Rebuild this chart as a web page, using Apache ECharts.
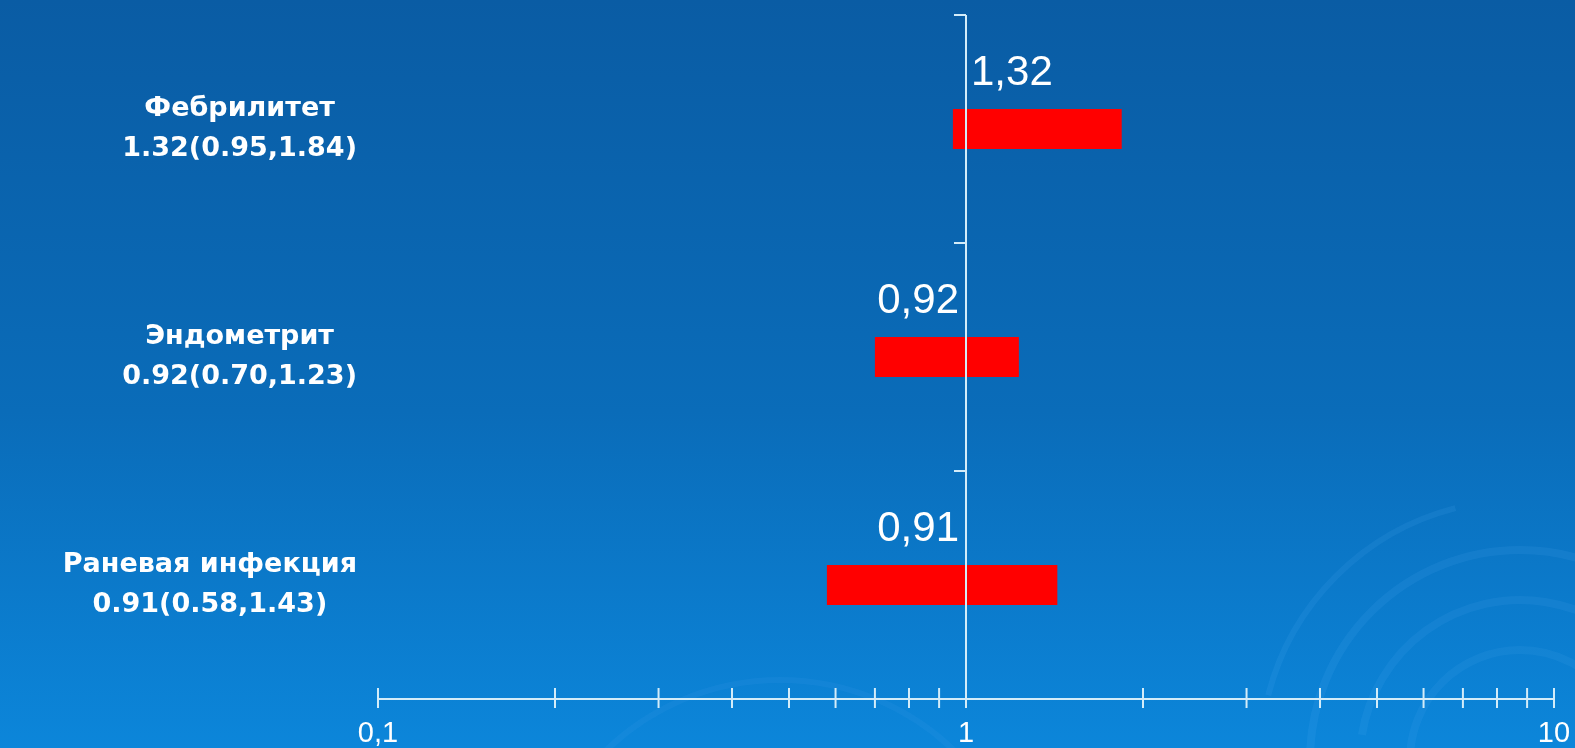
<!DOCTYPE html>
<html>
<head>
<meta charset="utf-8">
<script src="https://cdn.jsdelivr.net/npm/echarts@6/dist/echarts.min.js"></script>
<style>
html,body{margin:0;padding:0;background:#0a6cb9;}
#chart{width:1575px;height:748px;}
</style>
</head>
<body>
<div id="chart"></div>
<script>
// ---- data ----
const categories = ['Фебрилитет', 'Эндометрит', 'Раневая инфекция'];
const estimates = [1.32, 0.92, 0.91];
const lowerCI = [0.95, 0.70, 0.58];
const upperCI = [1.84, 1.23, 1.43];
const xTickValues = [0.1, 0.2, 0.3, 0.4, 0.5, 0.6, 0.7, 0.8, 0.9, 1, 2, 3, 4, 5, 6, 7, 8, 9, 10];
const xMin = 0.1;
const xMax = 10;
const referenceValue = 1;

// ---- helpers ----
const comma = v => String(v).replace('.', ',');
const ciText = i => estimates[i].toFixed(2) + '(' + lowerCI[i].toFixed(2) + ',' + upperCI[i].toFixed(2) + ')';

const AXIS_COLOR = '#d3ecf9';
const chart = echarts.init(document.getElementById('chart'));

const rangeData = categories.map((c, i) => [i, lowerCI[i], upperCI[i], estimates[i]]);

const arcStyle = (a, w) => ({ stroke: 'rgba(110,185,255,' + a + ')', lineWidth: w, fill: null });

const option = {
  backgroundColor: {
    type: 'linear', x: 0, y: 0, x2: 0, y2: 1,
    colorStops: [
      { offset: 0, color: '#0a5ca4' },
      { offset: 0.55, color: '#0a6cb9' },
      { offset: 1, color: '#0c86da' }
    ]
  },
  animation: false,
  graphic: [
    { type: 'arc', shape: { cx: 1520, cy: 760, r: 260, startAngle: Math.PI * 1.08, endAngle: Math.PI * 1.42 }, style: arcStyle(0.10, 6), silent: true, z: -1 },
    { type: 'arc', shape: { cx: 1520, cy: 760, r: 210, startAngle: Math.PI * 1.0, endAngle: Math.PI * 1.62 }, style: arcStyle(0.10, 8), silent: true, z: -1 },
    { type: 'arc', shape: { cx: 1520, cy: 760, r: 160, startAngle: Math.PI * 1.05, endAngle: Math.PI * 1.75 }, style: arcStyle(0.09, 8), silent: true, z: -1 },
    { type: 'arc', shape: { cx: 1520, cy: 760, r: 110, startAngle: Math.PI * 1.0, endAngle: Math.PI * 1.8 }, style: arcStyle(0.08, 8), silent: true, z: -1 },
    { type: 'arc', shape: { cx: 780, cy: 930, r: 250, startAngle: Math.PI * 1.25, endAngle: Math.PI * 1.75 }, style: arcStyle(0.07, 6), silent: true, z: -1 }
  ],
  grid: { left: 378, right: 21, top: 15, bottom: 48, containLabel: false },
  xAxis: {
    type: 'log',
    logBase: 10,
    min: xMin,
    max: xMax,
    axisLine: { show: true, lineStyle: { color: AXIS_COLOR, width: 2 } },
    axisTick: { show: false },
    splitLine: { show: false },
    minorTick: { show: false },
    axisLabel: {
      color: '#ffffff',
      fontFamily: '"Liberation Sans", Arial, sans-serif',
      fontSize: 29,
      margin: 20,
      formatter: v => comma(v)
    }
  },
  yAxis: {
    type: 'category',
    inverse: true,
    data: categories,
    axisLine: { show: false },
    axisTick: { show: false },
    splitLine: { show: false },
    axisLabel: {
      margin: 21,
      formatter: (name, idx) => '{c|' + name + '}\n{c|' + ciText(idx) + '}',
      rich: {
        c: {
          align: 'center',
          color: '#ffffff',
          fontFamily: '"DejaVu Sans", sans-serif',
          fontWeight: 'bold',
          fontSize: 27,
          lineHeight: 40
        }
      }
    }
  },
  series: [
    {
      type: 'custom',
      name: 'ticks',
      data: xTickValues.map(v => [v, 0]),
      encode: { x: 0, y: 1 },
      silent: true,
      renderItem: (params, api) => {
        const p = api.coord([api.value(0), 0]);
        const bottom = params.coordSys.y + params.coordSys.height;
        return {
          type: 'line',
          shape: { x1: p[0], y1: bottom - 11, x2: p[0], y2: bottom + 9 },
          style: { stroke: AXIS_COLOR, lineWidth: 2 }
        };
      }
    },
    {
      type: 'custom',
      name: 'ОР (95% ДИ)',
      data: rangeData,
      encode: { x: [1, 2], y: 0 },
      silent: true,
      renderItem: (params, api) => {
        const cat = api.value(0);
        const lo = api.value(1);
        const hi = api.value(2);
        const est = api.value(3);
        const band = api.size([1, 1])[1];
        const barH = band * 0.175;
        const pLo = api.coord([lo, cat]);
        const pHi = api.coord([hi, cat]);
        const pRef = api.coord([referenceValue, cat]);
        const top = pRef[1] - band / 2;
        const right = est >= referenceValue;
        return {
          type: 'group',
          children: [
            {
              type: 'rect',
              shape: { x: pLo[0], y: pRef[1] - barH / 2, width: pHi[0] - pLo[0], height: barH },
              style: { fill: '#ff0000' }
            },
            {
              type: 'line',
              shape: { x1: pRef[0], y1: top, x2: pRef[0], y2: pRef[1] + band / 2 },
              style: { stroke: AXIS_COLOR, lineWidth: 2 }
            },
            {
              type: 'line',
              shape: { x1: pRef[0] - 12, y1: top, x2: pRef[0], y2: top },
              style: { stroke: AXIS_COLOR, lineWidth: 2 }
            },
            {
              type: 'text',
              x: right ? pRef[0] + 5 : pRef[0] - 7,
              y: pRef[1] - barH / 2 - 15,
              style: {
                text: comma(est.toFixed(2)),
                fill: '#ffffff',
                font: '42px "Liberation Sans", Arial, sans-serif',
                textAlign: right ? 'left' : 'right',
                textVerticalAlign: 'bottom'
              }
            }
          ]
        };
      }
    }
  ]
};
chart.setOption(option);
</script>
</body>
</html>
